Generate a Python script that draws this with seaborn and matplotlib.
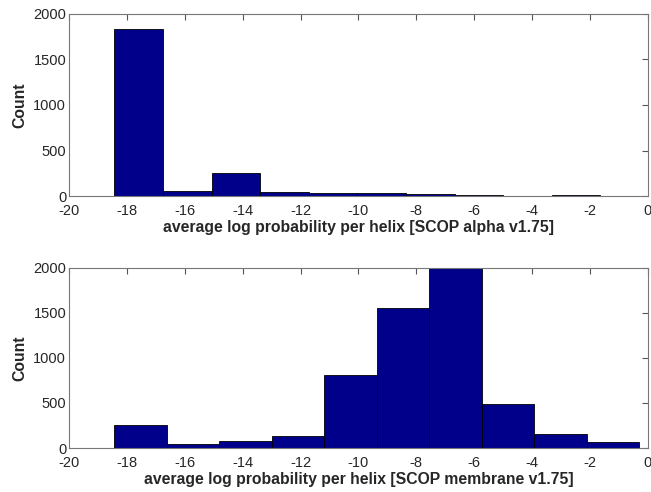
import numpy as np
import pandas as pd
import matplotlib
matplotlib.use('Agg')
import matplotlib.pyplot as plt
import seaborn as sns

# bin edges and counts
alpha_edges = np.linspace(-18.43, -1.64, 11)
alpha_counts = [1835, 55, 255, 45, 30, 28, 20, 16, 3, 6]

membrane_edges = np.linspace(-18.43, -0.29, 11)
membrane_counts = [255, 45, 80, 135, 810, 1560, 2050, 485, 160, 70]

xlabels = ['average log probability per helix [SCOP alpha v1.75]',
           'average log probability per helix [SCOP membrane v1.75]']

sns.set_style('white')
plt.rcParams['font.family'] = ['Liberation Sans', 'DejaVu Sans']
plt.rcParams['axes.unicode_minus'] = False

fig = plt.figure(figsize=(6.51, 4.92), dpi=100)
ax1 = fig.add_axes([0.106, 0.6016, 0.889, 0.370])
ax2 = fig.add_axes([0.106, 0.0894, 0.889, 0.366])

bar_color = '#00008b'

for ax, edges, counts, label in [(ax1, alpha_edges, alpha_counts, xlabels[0]),
                                 (ax2, membrane_edges, membrane_counts, xlabels[1])]:
    df = pd.DataFrame({'center': (edges[:-1] + edges[1:]) / 2, 'count': counts})
    sns.histplot(data=df, x='center', weights='count', bins=edges.tolist(), ax=ax,
                 color=bar_color, edgecolor='black', linewidth=0.6, alpha=1)
    ax.set_xlim(-20, 0)
    ax.set_ylim(0, 2000)
    ax.set_xticks(range(-20, 1, 2))
    ax.set_yticks(range(0, 2001, 500))
    ax.set_xlabel(label, fontsize=11.3, fontweight='bold', labelpad=1)
    ax.set_ylabel('Count', fontsize=11.3, fontweight='bold', labelpad=4)
    ax.tick_params(direction='in', length=4, width=0.8, color='#555555',
                   top=True, right=True, labelsize=10.5, pad=2)
    ax.tick_params(axis='x', pad=6)
    for s in ax.spines.values():
        s.set_color('#777777')
        s.set_linewidth(0.8)

fig.savefig('out.png', dpi=100)
